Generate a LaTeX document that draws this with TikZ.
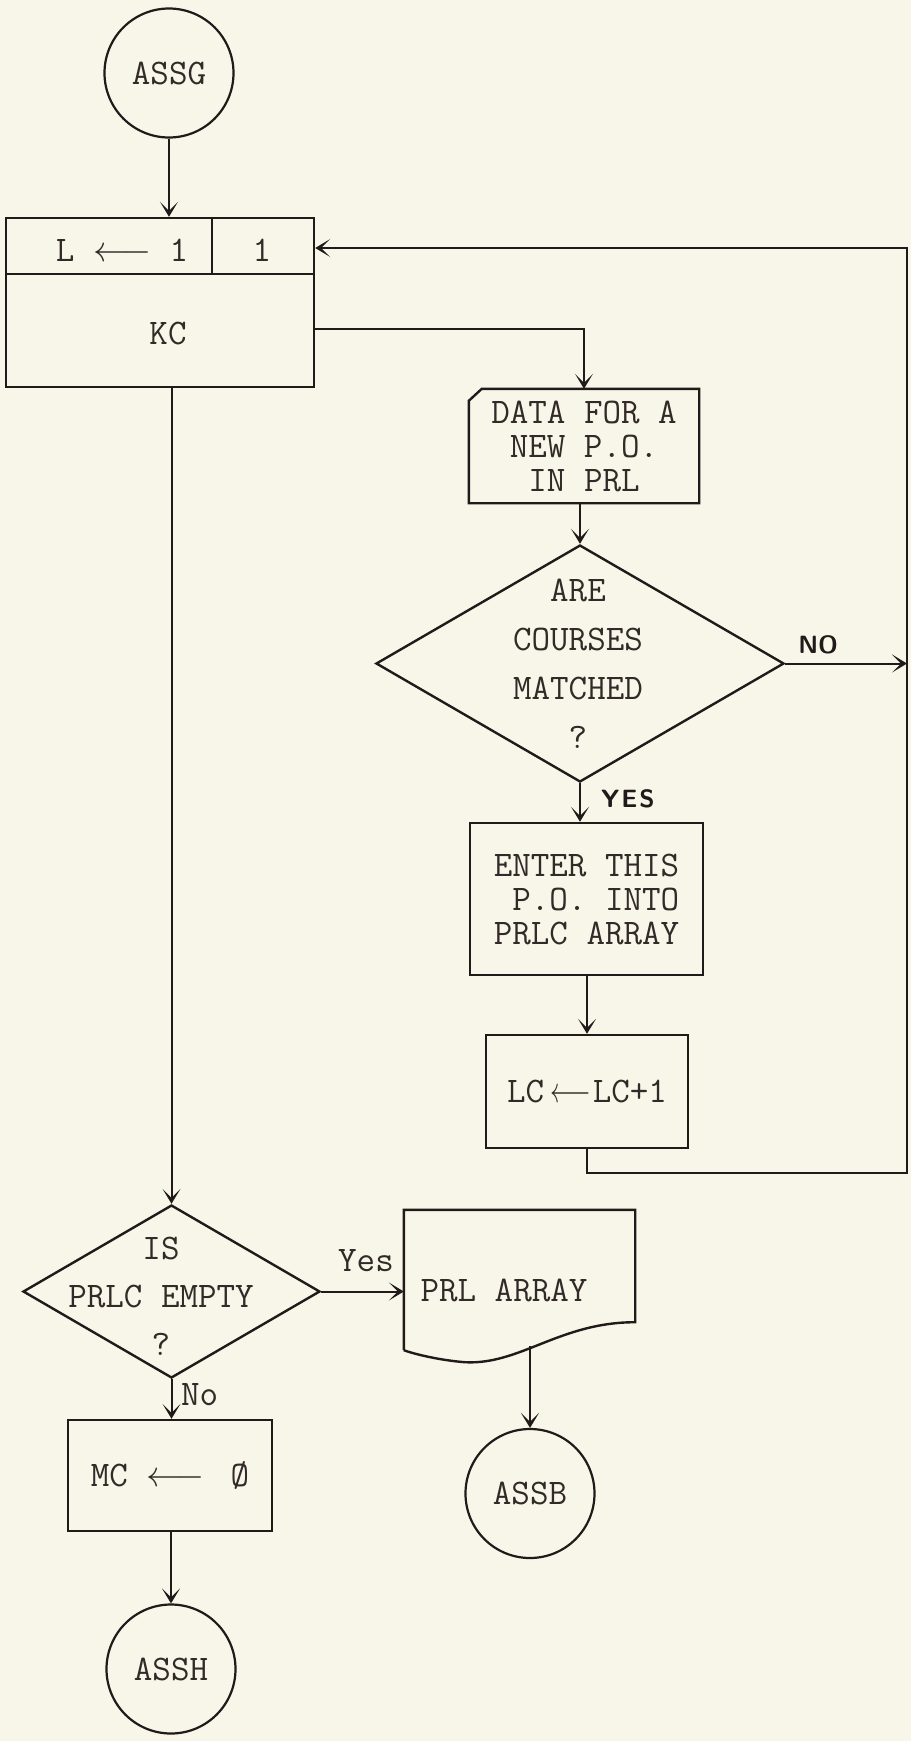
\RequirePackage{fix-cm}
\documentclass[tikz,border=0pt]{standalone}
\usepackage{fontspec}
\usepackage{graphicx}
\usetikzlibrary{shapes.geometric,arrows.meta,calc}
\definecolor{paper}{RGB}{248,246,232}
\definecolor{ink}{RGB}{34,26,26}
\definecolor{tink}{RGB}{50,42,40}
\begin{document}
\begin{tikzpicture}[x=1pt,y=-1pt,
  every node/.style={font=\ttfamily\fontsize{36}{34}\selectfont, text=tink},
  box/.style={draw=ink, line width=2.4pt, rectangle, inner sep=0pt, align=center},
  plain/.style={rectangle, inner sep=0pt},
  term/.style={draw=ink, line width=2.2pt, circle, minimum size=129pt, inner sep=0pt},
  dia/.style={draw=ink, line width=2.4pt, diamond, inner sep=0pt},
  shp/.style={draw=ink, line width=2.4pt, line join=miter},
  conn/.style={draw=ink, line width=2pt},
  flow/.style={draw=ink, line width=2pt, -{Stealth[length=15pt,width=18pt,inset=9pt]}},
  hand/.style={font=\sffamily\bfseries\fontsize{25}{25}\selectfont, text=ink, inner sep=0pt},
  txt/.style={inner sep=0pt, align=center},
  lbl/.style={inner sep=0pt}
]
\useasboundingbox (0,0) rectangle (911,1741);
\fill[paper] (0,0) rectangle (911,1741);

% start terminal
\node[term] (assg) at (169,73) {ASSG};

% initialisation box
\node[box, minimum width=308pt, minimum height=169pt] (init) at (160,302.5) {};
\draw[conn, line width=2.4pt] ($(init.north west)+(0,57)$) -- ($(init.north east)+(0,57)$);
\draw[conn, line width=2pt] ($(init.north west)+(207,0)$) -- ($(init.north west)+(207,57)$);
\node[txt] (lset) at (122,250) {L $\longleftarrow$ 1};
\node[txt] (lone) at (262,250) {1};
\node[txt] (kc) at (168,333) {KC};

% data card
\node[plain, minimum width=230pt, minimum height=114pt, align=center] (data) at (584,446) {DATA FOR A\\NEW P.O.\\IN PRL};
\draw[shp] ($(data.north west)+(0,12)$) -- ($(data.north west)+(13,0)$) -- (data.north east) -- (data.south east) -- (data.south west) -- cycle;

% decision 1
\node[dia, minimum width=408pt, minimum height=237pt] (match) at (580,663.5) {};
\node[txt, font=\ttfamily\fontsize{36}{49}\selectfont] (matcht) at (578,664) {ARE\\COURSES\\MATCHED\\?};

% enter box
\node[box, minimum width=233pt, minimum height=152pt, align=right] (enter) at (586.5,899) {ENTER THIS\\P.O. INTO\\PRLC ARRAY};

% counter box
\node[box, minimum width=202pt, minimum height=113pt] (lc) at (587,1091.5) {LC\hspace{6pt}\scalebox{0.7}[1]{$\longleftarrow$}\hspace{2pt}LC+1};

% loop corners
\coordinate (loopbr) at (907,1173);
\coordinate (looptr) at (907,248);

% decision 2
\node[dia, minimum width=297pt, minimum height=173pt] (empty) at (171.5,1291.5) {};
\node[txt, font=\ttfamily\fontsize{36}{48}\selectfont] (emptyt) at (161,1296) {IS\\PRLC EMPTY\\?};

% document
\node[plain, minimum width=231pt, minimum height=112pt] (prl) at (519.5,1266) {};
\node[txt] (prlt) at (504,1290) {PRL ARRAY};
\draw[shp] ($(prl.south west)+(0,28)$) -- (prl.north west) -- (prl.north east) -- (prl.south east)
  .. controls ($(prl.south west)+(156,0)$) and ($(prl.south west)+(116,43)$) .. ($(prl.south west)+(61,40)$)
  .. controls ($(prl.south west)+(36,38)$) and ($(prl.south west)+(11,32)$) .. ($(prl.south west)+(0,28)$);
\coordinate (prlb) at (528,1346);

% MC box
\node[box, minimum width=204pt, minimum height=111pt] (mc) at (170,1475.5) {MC $\longleftarrow$\hspace{26pt}Ø};

% end terminals
\node[term] (assb) at (530,1493.5) {ASSB};
\node[term] (assh) at (171,1669) {ASSH};

% connectors
\draw[flow] (assg.south) -- (assg.south |- init.north);
\draw[flow] ($(init.east)+(0,26.5)$) -| (data.north);
\draw[flow] (match.north |- data.south) -- (match.north);
\draw[flow] (match.south) -- (match.south |- enter.north)
  node[hand, pos=0.4, anchor=west, xshift=20pt] (yesl) {Y\kern2pt E\kern2pt S};
\draw[flow] (match.east) -- (match.east -| loopbr)
  node[hand, pos=0.1, anchor=south west, yshift=8pt] (nol) {NO};
\draw[flow] (lc.north |- enter.south) -- (lc.north);
\draw[flow] (lc.south) |- (loopbr) -- (looptr) -- (looptr -| init.east);
\draw[flow] (init.south -| empty.north) -- (empty.north);
\draw[flow] (empty.east) -- (empty.east -| prl.west);
\node[lbl, anchor=base east] (yesl2) at (394,1271) {Yes};
\draw[flow] (empty.south) -- (empty.south |- mc.north);
\node[lbl, anchor=base west] (nol2) at (181,1405) {No};
\draw[flow] (assb.north |- prlb) -- (assb.north);
\draw[flow] (assh.north |- mc.south) -- (assh.north);
\end{tikzpicture}
\end{document}
